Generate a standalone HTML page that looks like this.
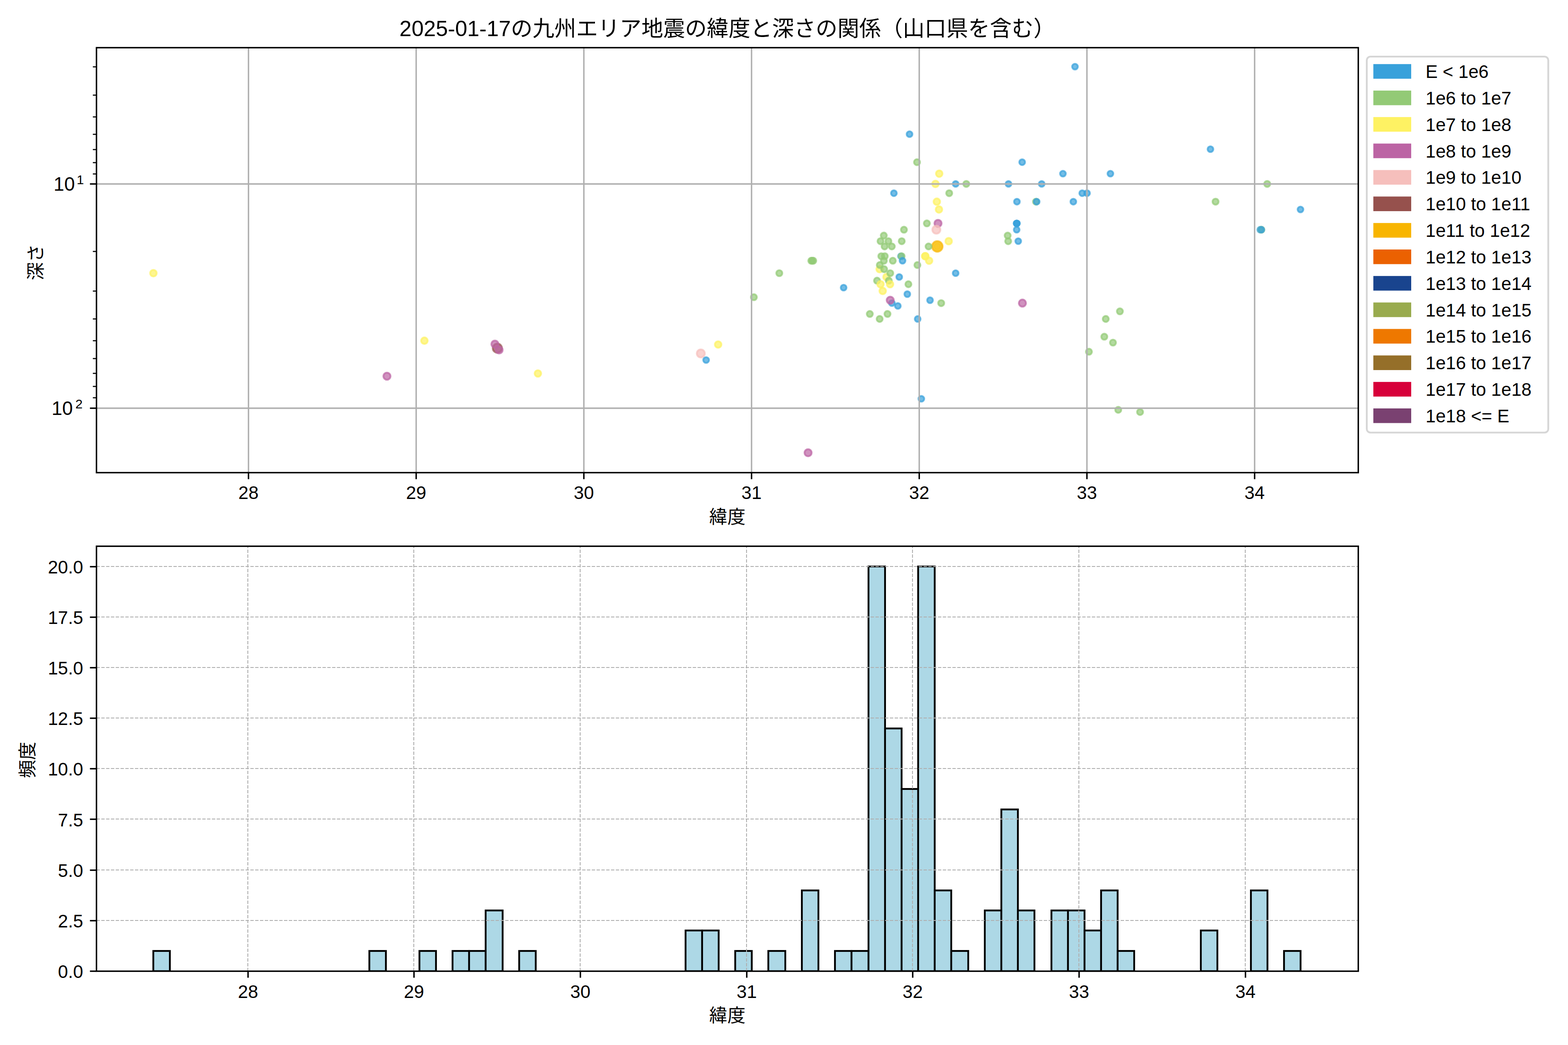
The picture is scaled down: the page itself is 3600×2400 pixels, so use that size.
<!DOCTYPE html>
<html lang="ja"><head><meta charset="utf-8"><title>2025-01-17の九州エリア地震の緯度と深さの関係</title>
<style>html,body{margin:0;padding:0;background:#fff;font-family:"Liberation Sans",sans-serif}svg{display:block}</style></head>
<body>
<svg width="3600" height="2400" viewBox="0 0 3600 2400" role="img" aria-label="2025-01-17の九州エリア地震の緯度と深さの関係（山口県を含む）"><title>2025-01-17の九州エリア地震の緯度と深さの関係（山口県を含む）</title><desc>上: 緯度 (28–34) と 深さ (対数軸, 10^1–10^2, 反転) の散布図。凡例: E &lt; 1e6, 1e6 to 1e7, 1e7 to 1e8, 1e8 to 1e9, 1e9 to 1e10, 1e10 to 1e11, 1e11 to 1e12, 1e12 to 1e13, 1e13 to 1e14, 1e14 to 1e15, 1e15 to 1e16, 1e16 to 1e17, 1e17 to 1e18, 1e18 &lt;= E。下: 緯度ごとの頻度ヒストグラム (0.0–20.0)。</desc><rect width="3600" height="2400" fill="#fff"/>
<clipPath id="c1"><rect x="221.5" y="109.5" width="2897" height="976"/></clipPath>
<g clip-path="url(#c1)">
<g stroke-width="4.17" fill-opacity=".7" stroke-opacity=".7">
<circle cx="352.2" cy="627.38" r="7.5" fill="#FEF263" stroke="#FEF263"/>
<circle cx="888.4" cy="864.01" r="8.2" fill="#BC64A4" stroke="#BC64A4"/>
<circle cx="974.4" cy="782.44" r="7.5" fill="#FEF263" stroke="#FEF263"/>
<circle cx="1141.9" cy="799.66" r="10.5" fill="#96514D" stroke="#96514D"/>
<circle cx="1136.3" cy="790.35" r="8.2" fill="#BC64A4" stroke="#BC64A4"/>
<circle cx="1145.9" cy="803.76" r="8.2" fill="#BC64A4" stroke="#BC64A4"/>
<circle cx="1235" cy="857.71" r="7.5" fill="#FEF263" stroke="#FEF263"/>
<circle cx="1609" cy="811.75" r="9.2" fill="#F6BFBC" stroke="#F6BFBC"/>
<circle cx="1621.2" cy="826.92" r="6.6" fill="#38A1DB" stroke="#38A1DB"/>
<circle cx="1648.8" cy="791.21" r="7.5" fill="#FEF263" stroke="#FEF263"/>
<circle cx="1730.8" cy="682.6" r="6.9" fill="#93CA76" stroke="#93CA76"/>
<circle cx="1789.2" cy="627.38" r="6.9" fill="#93CA76" stroke="#93CA76"/>
<circle cx="1862.6" cy="598.78" r="6.9" fill="#93CA76" stroke="#93CA76"/>
<circle cx="1864.9" cy="598.78" r="6.9" fill="#93CA76" stroke="#93CA76"/>
<circle cx="1867.2" cy="598.78" r="6.9" fill="#93CA76" stroke="#93CA76"/>
<circle cx="1855.3" cy="1039.83" r="8.2" fill="#BC64A4" stroke="#BC64A4"/>
<circle cx="1936.9" cy="660.58" r="6.6" fill="#38A1DB" stroke="#38A1DB"/>
<circle cx="2115.3" cy="915.91" r="6.6" fill="#38A1DB" stroke="#38A1DB"/>
<circle cx="2088.2" cy="308.13" r="6.6" fill="#38A1DB" stroke="#38A1DB"/>
<circle cx="2105.4" cy="372.48" r="6.9" fill="#93CA76" stroke="#93CA76"/>
<circle cx="2156.4" cy="398.83" r="7.5" fill="#FEF263" stroke="#FEF263"/>
<circle cx="2147.8" cy="422.4" r="7.5" fill="#FEF263" stroke="#FEF263"/>
<circle cx="2194.1" cy="422.4" r="6.6" fill="#38A1DB" stroke="#38A1DB"/>
<circle cx="2218.5" cy="422.4" r="6.9" fill="#93CA76" stroke="#93CA76"/>
<circle cx="2052.3" cy="443.72" r="6.6" fill="#38A1DB" stroke="#38A1DB"/>
<circle cx="2179.3" cy="443.72" r="6.9" fill="#93CA76" stroke="#93CA76"/>
<circle cx="2150.9" cy="463.19" r="7.5" fill="#FEF263" stroke="#FEF263"/>
<circle cx="2155.8" cy="481.09" r="7.5" fill="#FEF263" stroke="#FEF263"/>
<circle cx="2075.4" cy="527.54" r="6.9" fill="#93CA76" stroke="#93CA76"/>
<circle cx="2029.1" cy="541.1" r="6.9" fill="#93CA76" stroke="#93CA76"/>
<circle cx="2021.6" cy="553.89" r="6.9" fill="#93CA76" stroke="#93CA76"/>
<circle cx="2039.7" cy="553.89" r="6.9" fill="#93CA76" stroke="#93CA76"/>
<circle cx="2070.3" cy="553.89" r="6.9" fill="#93CA76" stroke="#93CA76"/>
<circle cx="2031" cy="565.99" r="6.9" fill="#93CA76" stroke="#93CA76"/>
<circle cx="2047.5" cy="565.99" r="6.9" fill="#93CA76" stroke="#93CA76"/>
<circle cx="2023.4" cy="588.38" r="6.9" fill="#93CA76" stroke="#93CA76"/>
<circle cx="2031.4" cy="588.38" r="6.9" fill="#93CA76" stroke="#93CA76"/>
<circle cx="2029.3" cy="598.78" r="6.9" fill="#93CA76" stroke="#93CA76"/>
<circle cx="2049.8" cy="598.78" r="6.9" fill="#93CA76" stroke="#93CA76"/>
<circle cx="2068.6" cy="588.38" r="6.6" fill="#38A1DB" stroke="#38A1DB"/>
<circle cx="2070" cy="588.38" r="6.9" fill="#93CA76" stroke="#93CA76"/>
<circle cx="2072.1" cy="598.78" r="6.6" fill="#38A1DB" stroke="#38A1DB"/>
<circle cx="2019.6" cy="618.25" r="7.5" fill="#FEF263" stroke="#FEF263"/>
<circle cx="2019.9" cy="608.73" r="6.9" fill="#93CA76" stroke="#93CA76"/>
<circle cx="2029.9" cy="618.25" r="6.9" fill="#93CA76" stroke="#93CA76"/>
<circle cx="2106.3" cy="608.73" r="6.9" fill="#93CA76" stroke="#93CA76"/>
<circle cx="2035.3" cy="636.15" r="7.5" fill="#FEF263" stroke="#FEF263"/>
<circle cx="2043.9" cy="627.38" r="6.9" fill="#93CA76" stroke="#93CA76"/>
<circle cx="2064.6" cy="636.15" r="6.6" fill="#38A1DB" stroke="#38A1DB"/>
<circle cx="2013.6" cy="644.6" r="6.9" fill="#93CA76" stroke="#93CA76"/>
<circle cx="2040.7" cy="644.6" r="6.9" fill="#93CA76" stroke="#93CA76"/>
<circle cx="2021.6" cy="652.73" r="7.5" fill="#FEF263" stroke="#FEF263"/>
<circle cx="2043.5" cy="652.73" r="7.5" fill="#FEF263" stroke="#FEF263"/>
<circle cx="2085.6" cy="652.73" r="6.9" fill="#93CA76" stroke="#93CA76"/>
<circle cx="2026.6" cy="668.17" r="7.5" fill="#FEF263" stroke="#FEF263"/>
<circle cx="2128" cy="513.1" r="6.9" fill="#93CA76" stroke="#93CA76"/>
<circle cx="2153.6" cy="513.1" r="8.2" fill="#BC64A4" stroke="#BC64A4"/>
<circle cx="2149.8" cy="527.54" r="9.2" fill="#F6BFBC" stroke="#F6BFBC"/>
<circle cx="2152" cy="565.99" r="7.5" fill="#FEF263" stroke="#FEF263"/>
<circle cx="2152" cy="565.99" r="12.1" fill="#F8B500" stroke="#F8B500"/>
<circle cx="2131.9" cy="565.99" r="6.9" fill="#93CA76" stroke="#93CA76"/>
<circle cx="2178.1" cy="553.89" r="7.5" fill="#FEF263" stroke="#FEF263"/>
<circle cx="2133.2" cy="598.78" r="7.5" fill="#FEF263" stroke="#FEF263"/>
<circle cx="2124.2" cy="588.38" r="7.5" fill="#FEF263" stroke="#FEF263"/>
<circle cx="2124.4" cy="588.38" r="7.5" fill="#FEF263" stroke="#FEF263"/>
<circle cx="2194.1" cy="627.38" r="6.6" fill="#38A1DB" stroke="#38A1DB"/>
<circle cx="2083.1" cy="675.5" r="6.6" fill="#38A1DB" stroke="#38A1DB"/>
<circle cx="2047.8" cy="696.16" r="6.6" fill="#38A1DB" stroke="#38A1DB"/>
<circle cx="2043.9" cy="689.49" r="8.2" fill="#BC64A4" stroke="#BC64A4"/>
<circle cx="2061.4" cy="702.65" r="6.6" fill="#38A1DB" stroke="#38A1DB"/>
<circle cx="2135.3" cy="689.49" r="6.6" fill="#38A1DB" stroke="#38A1DB"/>
<circle cx="2160.9" cy="696.16" r="6.9" fill="#93CA76" stroke="#93CA76"/>
<circle cx="1997" cy="721.05" r="6.9" fill="#93CA76" stroke="#93CA76"/>
<circle cx="2037.6" cy="721.05" r="6.9" fill="#93CA76" stroke="#93CA76"/>
<circle cx="2019.6" cy="732.52" r="6.9" fill="#93CA76" stroke="#93CA76"/>
<circle cx="2106.9" cy="732.52" r="6.6" fill="#38A1DB" stroke="#38A1DB"/>
<circle cx="2468.1" cy="153.07" r="6.6" fill="#38A1DB" stroke="#38A1DB"/>
<circle cx="2346.8" cy="372.48" r="6.6" fill="#38A1DB" stroke="#38A1DB"/>
<circle cx="2440.4" cy="398.83" r="6.6" fill="#38A1DB" stroke="#38A1DB"/>
<circle cx="2549.4" cy="398.83" r="6.6" fill="#38A1DB" stroke="#38A1DB"/>
<circle cx="2315.4" cy="422.4" r="6.6" fill="#38A1DB" stroke="#38A1DB"/>
<circle cx="2391.6" cy="422.4" r="6.6" fill="#38A1DB" stroke="#38A1DB"/>
<circle cx="2484.7" cy="443.72" r="6.6" fill="#38A1DB" stroke="#38A1DB"/>
<circle cx="2495.8" cy="443.72" r="6.6" fill="#38A1DB" stroke="#38A1DB"/>
<circle cx="2334.8" cy="463.19" r="6.6" fill="#38A1DB" stroke="#38A1DB"/>
<circle cx="2378.6" cy="463.19" r="6.9" fill="#93CA76" stroke="#93CA76"/>
<circle cx="2380.1" cy="463.19" r="6.6" fill="#38A1DB" stroke="#38A1DB"/>
<circle cx="2464.3" cy="463.19" r="6.6" fill="#38A1DB" stroke="#38A1DB"/>
<circle cx="2333.9" cy="513.1" r="6.6" fill="#38A1DB" stroke="#38A1DB"/>
<circle cx="2334.9" cy="513.1" r="6.6" fill="#38A1DB" stroke="#38A1DB"/>
<circle cx="2334.4" cy="513.1" r="6.6" fill="#38A1DB" stroke="#38A1DB"/>
<circle cx="2334.2" cy="527.54" r="6.6" fill="#38A1DB" stroke="#38A1DB"/>
<circle cx="2313.5" cy="541.1" r="6.9" fill="#93CA76" stroke="#93CA76"/>
<circle cx="2314.7" cy="553.89" r="6.9" fill="#93CA76" stroke="#93CA76"/>
<circle cx="2337.8" cy="553.89" r="6.6" fill="#38A1DB" stroke="#38A1DB"/>
<circle cx="2347.4" cy="696.16" r="8.2" fill="#BC64A4" stroke="#BC64A4"/>
<circle cx="2571.2" cy="715.08" r="6.9" fill="#93CA76" stroke="#93CA76"/>
<circle cx="2538.7" cy="732.52" r="6.9" fill="#93CA76" stroke="#93CA76"/>
<circle cx="2535.4" cy="773.31" r="6.9" fill="#93CA76" stroke="#93CA76"/>
<circle cx="2555.3" cy="786.87" r="6.9" fill="#93CA76" stroke="#93CA76"/>
<circle cx="2500.1" cy="807.79" r="6.9" fill="#93CA76" stroke="#93CA76"/>
<circle cx="2567.4" cy="941.27" r="6.9" fill="#93CA76" stroke="#93CA76"/>
<circle cx="2617.5" cy="946.27" r="6.9" fill="#93CA76" stroke="#93CA76"/>
<circle cx="2779.1" cy="342.61" r="6.6" fill="#38A1DB" stroke="#38A1DB"/>
<circle cx="2909.4" cy="422.4" r="6.9" fill="#93CA76" stroke="#93CA76"/>
<circle cx="2790.8" cy="463.19" r="6.9" fill="#93CA76" stroke="#93CA76"/>
<circle cx="2985.8" cy="481.09" r="6.6" fill="#38A1DB" stroke="#38A1DB"/>
<circle cx="2893.4" cy="527.54" r="6.6" fill="#38A1DB" stroke="#38A1DB"/>
<circle cx="2896" cy="527.54" r="6.9" fill="#93CA76" stroke="#93CA76"/>
<circle cx="2896" cy="527.54" r="6.6" fill="#38A1DB" stroke="#38A1DB"/>
</g>
<g stroke="#b0b0b0" stroke-width="3.33">
<line x1="570.5" x2="570.5" y1="109.5" y2="1085.5"/>
<line x1="955.5" x2="955.5" y1="109.5" y2="1085.5"/>
<line x1="1340.5" x2="1340.5" y1="109.5" y2="1085.5"/>
<line x1="1725.5" x2="1725.5" y1="109.5" y2="1085.5"/>
<line x1="2110.5" x2="2110.5" y1="109.5" y2="1085.5"/>
<line x1="2495.5" x2="2495.5" y1="109.5" y2="1085.5"/>
<line x1="2880.5" x2="2880.5" y1="109.5" y2="1085.5"/>
<line x1="221.5" x2="3118.5" y1="422.5" y2="422.5"/>
<line x1="221.5" x2="3118.5" y1="937.5" y2="937.5"/>
</g></g>
<g stroke="#000" stroke-width="3.33">
<line x1="570.5" x2="570.5" y1="1085.5" y2="1100.5"/>
<line x1="955.5" x2="955.5" y1="1085.5" y2="1100.5"/>
<line x1="1340.5" x2="1340.5" y1="1085.5" y2="1100.5"/>
<line x1="1725.5" x2="1725.5" y1="1085.5" y2="1100.5"/>
<line x1="2110.5" x2="2110.5" y1="1085.5" y2="1100.5"/>
<line x1="2495.5" x2="2495.5" y1="1085.5" y2="1100.5"/>
<line x1="2880.5" x2="2880.5" y1="1085.5" y2="1100.5"/>
<line x1="206.5" x2="221.5" y1="422.5" y2="422.5"/>
<line x1="206.5" x2="221.5" y1="937.5" y2="937.5"/>
</g><g stroke="#000" stroke-width="2.5">
<line x1="213.17" x2="221.5" y1="153.5" y2="153.5"/>
<line x1="213.17" x2="221.5" y1="218.5" y2="218.5"/>
<line x1="213.17" x2="221.5" y1="268.5" y2="268.5"/>
<line x1="213.17" x2="221.5" y1="308.5" y2="308.5"/>
<line x1="213.17" x2="221.5" y1="343.5" y2="343.5"/>
<line x1="213.17" x2="221.5" y1="373.5" y2="373.5"/>
<line x1="213.17" x2="221.5" y1="399.5" y2="399.5"/>
<line x1="213.17" x2="221.5" y1="577.5" y2="577.5"/>
<line x1="213.17" x2="221.5" y1="668.5" y2="668.5"/>
<line x1="213.17" x2="221.5" y1="732.5" y2="732.5"/>
<line x1="213.17" x2="221.5" y1="782.5" y2="782.5"/>
<line x1="213.17" x2="221.5" y1="823.5" y2="823.5"/>
<line x1="213.17" x2="221.5" y1="857.5" y2="857.5"/>
<line x1="213.17" x2="221.5" y1="887.5" y2="887.5"/>
<line x1="213.17" x2="221.5" y1="913.5" y2="913.5"/>
</g>
<rect x="221.5" y="109.5" width="2897" height="976" fill="none" stroke="#000" stroke-width="3.33"/>
<clipPath id="c2"><rect x="221.5" y="1254.5" width="2897" height="976"/></clipPath>
<g clip-path="url(#c2)">
<g fill="#add8e6" stroke="#000" stroke-width="4.17">
<rect x="352" y="2184" width="38" height="46.5"/>
<rect x="848" y="2184" width="38" height="46.5"/>
<rect x="963" y="2184" width="38" height="46.5"/>
<rect x="1039" y="2184" width="38" height="46.5"/>
<rect x="1077" y="2184" width="38" height="46.5"/>
<rect x="1115" y="2091" width="39" height="139.5"/>
<rect x="1192" y="2184" width="38" height="46.5"/>
<rect x="1574" y="2137" width="38" height="93.5"/>
<rect x="1612" y="2137" width="38" height="93.5"/>
<rect x="1688" y="2184" width="38" height="46.5"/>
<rect x="1764" y="2184" width="39" height="46.5"/>
<rect x="1841" y="2045" width="38" height="185.5"/>
<rect x="1917" y="2184" width="38" height="46.5"/>
<rect x="1955" y="2184" width="39" height="46.5"/>
<rect x="1994" y="1301" width="38" height="929.5"/>
<rect x="2032" y="1673" width="38" height="557.5"/>
<rect x="2070" y="1812" width="38" height="418.5"/>
<rect x="2108" y="1301" width="38" height="929.5"/>
<rect x="2146" y="2045" width="38" height="185.5"/>
<rect x="2184" y="2184" width="39" height="46.5"/>
<rect x="2261" y="2091" width="38" height="139.5"/>
<rect x="2299" y="1859" width="38" height="371.5"/>
<rect x="2337" y="2091" width="38" height="139.5"/>
<rect x="2414" y="2091" width="38" height="139.5"/>
<rect x="2452" y="2091" width="38" height="139.5"/>
<rect x="2490" y="2137" width="38" height="93.5"/>
<rect x="2528" y="2045" width="38" height="185.5"/>
<rect x="2566" y="2184" width="38" height="46.5"/>
<rect x="2757" y="2137" width="38" height="93.5"/>
<rect x="2872" y="2045" width="38" height="185.5"/>
<rect x="2948" y="2184" width="38" height="46.5"/>
</g>
<g stroke="#b0b0b0" stroke-width="2.08" stroke-dasharray="7.71 3.33">
<line x1="569" x2="569" y1="2230.5" y2="1254.5"/>
<line x1="950" x2="950" y1="2230.5" y2="1254.5"/>
<line x1="1332" x2="1332" y1="2230.5" y2="1254.5"/>
<line x1="1714" x2="1714" y1="2230.5" y2="1254.5"/>
<line x1="2095" x2="2095" y1="2230.5" y2="1254.5"/>
<line x1="2477" x2="2477" y1="2230.5" y2="1254.5"/>
<line x1="2859" x2="2859" y1="2230.5" y2="1254.5"/>
<line x1="221.5" x2="3118.5" y1="2230" y2="2230"/>
<line x1="221.5" x2="3118.5" y1="2114" y2="2114"/>
<line x1="221.5" x2="3118.5" y1="1998" y2="1998"/>
<line x1="221.5" x2="3118.5" y1="1881" y2="1881"/>
<line x1="221.5" x2="3118.5" y1="1765" y2="1765"/>
<line x1="221.5" x2="3118.5" y1="1649" y2="1649"/>
<line x1="221.5" x2="3118.5" y1="1533" y2="1533"/>
<line x1="221.5" x2="3118.5" y1="1417" y2="1417"/>
<line x1="221.5" x2="3118.5" y1="1301" y2="1301"/>
</g></g>
<g stroke="#000" stroke-width="3.33">
<line x1="569.5" x2="569.5" y1="2230.5" y2="2245.5"/>
<line x1="950.5" x2="950.5" y1="2230.5" y2="2245.5"/>
<line x1="1332.5" x2="1332.5" y1="2230.5" y2="2245.5"/>
<line x1="1714.5" x2="1714.5" y1="2230.5" y2="2245.5"/>
<line x1="2095.5" x2="2095.5" y1="2230.5" y2="2245.5"/>
<line x1="2477.5" x2="2477.5" y1="2230.5" y2="2245.5"/>
<line x1="2859.5" x2="2859.5" y1="2230.5" y2="2245.5"/>
<line x1="206.5" x2="221.5" y1="2230.5" y2="2230.5"/>
<line x1="206.5" x2="221.5" y1="2114.5" y2="2114.5"/>
<line x1="206.5" x2="221.5" y1="1998.5" y2="1998.5"/>
<line x1="206.5" x2="221.5" y1="1881.5" y2="1881.5"/>
<line x1="206.5" x2="221.5" y1="1765.5" y2="1765.5"/>
<line x1="206.5" x2="221.5" y1="1649.5" y2="1649.5"/>
<line x1="206.5" x2="221.5" y1="1533.5" y2="1533.5"/>
<line x1="206.5" x2="221.5" y1="1417.5" y2="1417.5"/>
<line x1="206.5" x2="221.5" y1="1301.5" y2="1301.5"/>
</g>
<rect x="221.5" y="1254.5" width="2897" height="976" fill="none" stroke="#000" stroke-width="3.33"/>
<rect x="3138" y="130" width="416.7" height="863.5" rx="8.33" ry="8.33" fill="#fff" fill-opacity=".8" stroke="#ccc" stroke-opacity=".8" stroke-width="4.17"/>
<rect x="3153.1" y="147.2" width="86.9" height="33.6" fill="#38A1DB"/>
<rect x="3153.1" y="208.03" width="86.9" height="33.6" fill="#93CA76"/>
<rect x="3153.1" y="268.86" width="86.9" height="33.6" fill="#FEF263"/>
<rect x="3153.1" y="329.69" width="86.9" height="33.6" fill="#BC64A4"/>
<rect x="3153.1" y="390.52" width="86.9" height="33.6" fill="#F6BFBC"/>
<rect x="3153.1" y="451.35" width="86.9" height="33.6" fill="#96514D"/>
<rect x="3153.1" y="512.18" width="86.9" height="33.6" fill="#F8B500"/>
<rect x="3153.1" y="573.01" width="86.9" height="33.6" fill="#EB6101"/>
<rect x="3153.1" y="633.84" width="86.9" height="33.6" fill="#19448E"/>
<rect x="3153.1" y="694.67" width="86.9" height="33.6" fill="#99AB4E"/>
<rect x="3153.1" y="755.5" width="86.9" height="33.6" fill="#EE7800"/>
<rect x="3153.1" y="816.33" width="86.9" height="33.6" fill="#956F29"/>
<rect x="3153.1" y="877.16" width="86.9" height="33.6" fill="#D7003A"/>
<rect x="3153.1" y="937.99" width="86.9" height="33.6" fill="#7A4171"/>
<g fill="#000" font-family="&quot;Liberation Sans&quot;, &quot;Noto Sans CJK JP&quot;, sans-serif" font-size="41.67">
<text x="3273" y="179.1">E &lt; 1e6</text>
<text x="3273" y="239.93">1e6 to 1e7</text>
<text x="3273" y="300.76">1e7 to 1e8</text>
<text x="3273" y="361.59">1e8 to 1e9</text>
<text x="3273" y="422.42">1e9 to 1e10</text>
<text x="3273" y="483.25">1e10 to 1e11</text>
<text x="3273" y="544.08">1e11 to 1e12</text>
<text x="3273" y="604.91">1e12 to 1e13</text>
<text x="3273" y="665.74">1e13 to 1e14</text>
<text x="3273" y="726.57">1e14 to 1e15</text>
<text x="3273" y="787.4">1e15 to 1e16</text>
<text x="3273" y="848.23">1e16 to 1e17</text>
<text x="3273" y="909.06">1e17 to 1e18</text>
<text x="3273" y="969.89">1e18 &lt;= E</text>
<text x="1670" y="83" font-size="50" text-anchor="middle">2025-01-17の九州エリア地震の緯度と深さの関係（山口県を含む）</text>
<text x="570.5" y="1146.4" text-anchor="middle">28</text>
<text x="569.5" y="2291.5" text-anchor="middle">28</text>
<text x="955.5" y="1146.4" text-anchor="middle">29</text>
<text x="950.5" y="2291.5" text-anchor="middle">29</text>
<text x="1340.5" y="1146.4" text-anchor="middle">30</text>
<text x="1332.5" y="2291.5" text-anchor="middle">30</text>
<text x="1725.5" y="1146.4" text-anchor="middle">31</text>
<text x="1714.5" y="2291.5" text-anchor="middle">31</text>
<text x="2110.5" y="1146.4" text-anchor="middle">32</text>
<text x="2095.5" y="2291.5" text-anchor="middle">32</text>
<text x="2495.5" y="1146.4" text-anchor="middle">33</text>
<text x="2477.5" y="2291.5" text-anchor="middle">33</text>
<text x="2880.5" y="1146.4" text-anchor="middle">34</text>
<text x="2859.5" y="2291.5" text-anchor="middle">34</text>
<text x="191" y="2246" text-anchor="end">0.0</text>
<text x="191" y="2129.85" text-anchor="end">2.5</text>
<text x="191" y="2013.7" text-anchor="end">5.0</text>
<text x="191" y="1897.55" text-anchor="end">7.5</text>
<text x="191" y="1781.4" text-anchor="end">10.0</text>
<text x="191" y="1665.25" text-anchor="end">12.5</text>
<text x="191" y="1549.1" text-anchor="end">15.0</text>
<text x="191" y="1432.95" text-anchor="end">17.5</text>
<text x="191" y="1316.8" text-anchor="end">20.0</text>
<text x="123" y="438.2" font-size="44">10</text><text x="176" y="422.9" font-size="30">1</text>
<text x="118.4" y="953.1" font-size="44">10</text><text x="172.9" y="937.8" font-size="30">2</text>
<text x="1670" y="1202.49" text-anchor="middle">緯度</text>
<text x="1670" y="2347.49" text-anchor="middle">緯度</text>
<g transform="translate(81.85 603.35) rotate(-90)"><text x="1.2" y="14.84" text-anchor="middle">深さ</text></g>
<g transform="translate(62.25 1745.55) rotate(-90)"><text x="0.3" y="15.57" text-anchor="middle">頻度</text></g>
</g></svg>
</body></html>
